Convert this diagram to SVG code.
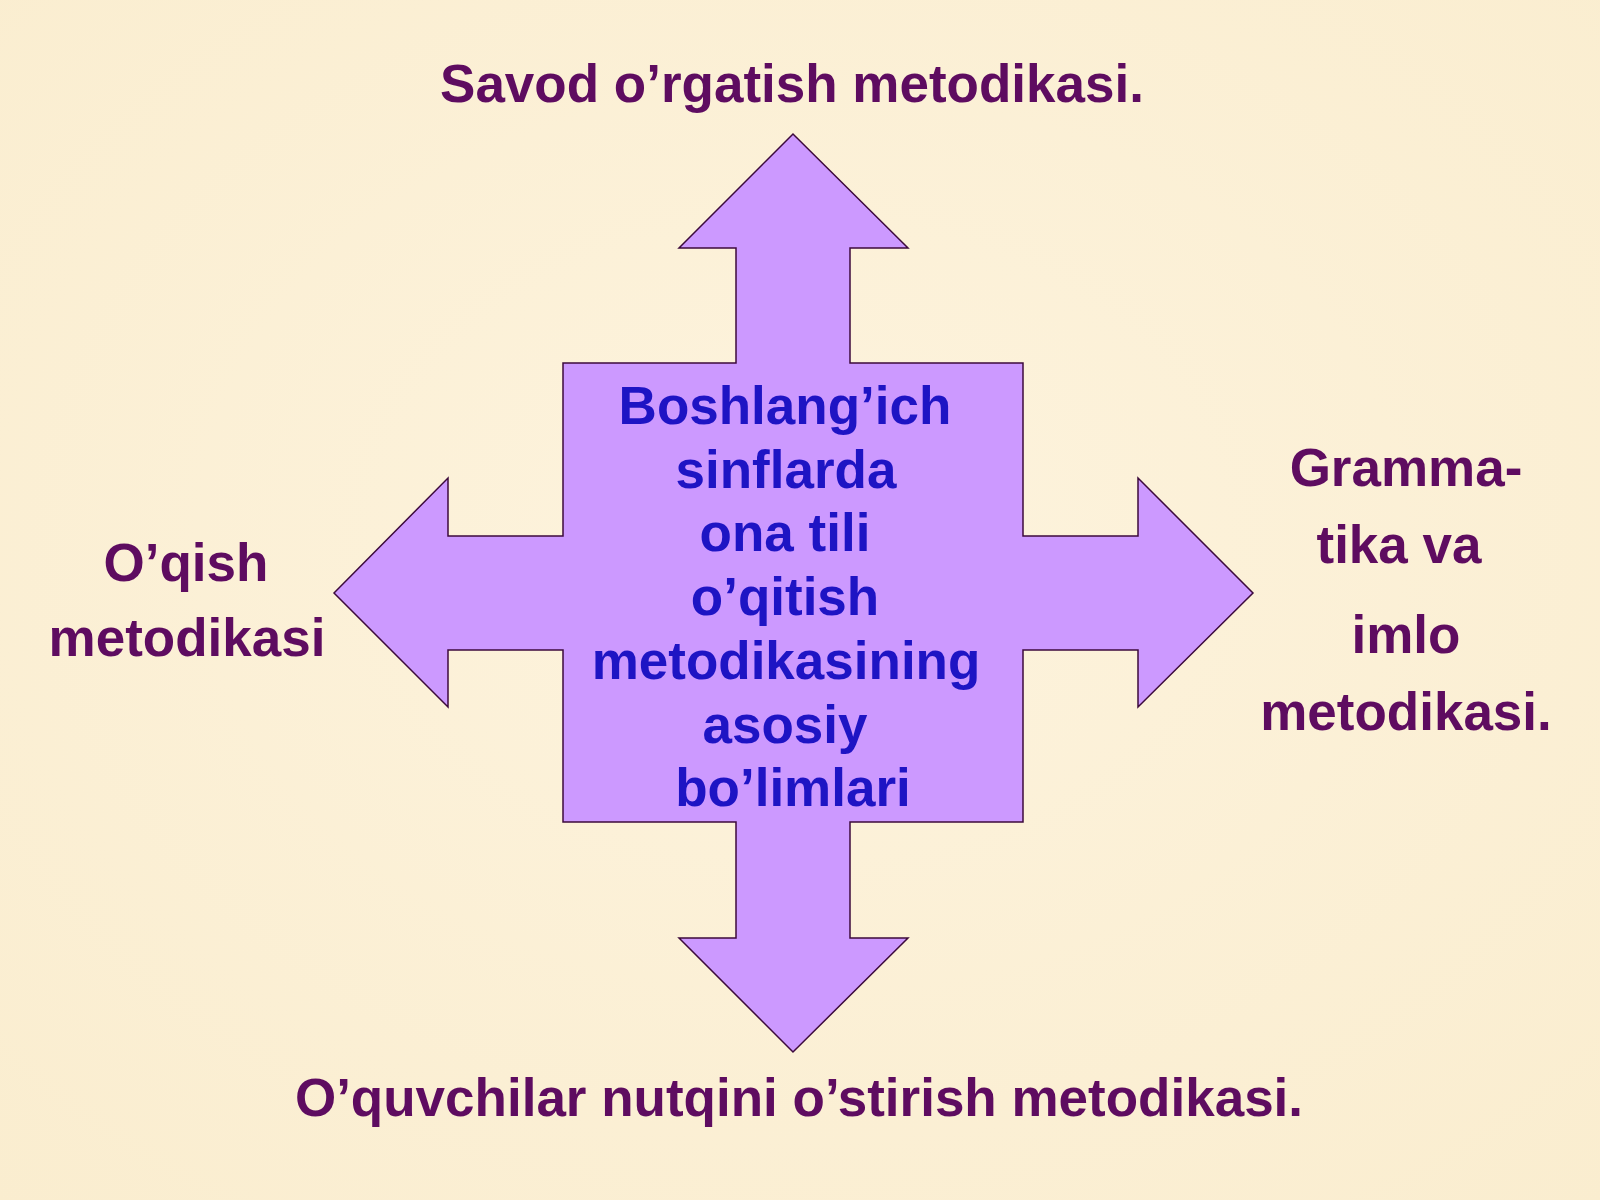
<svg xmlns="http://www.w3.org/2000/svg" width="1600" height="1200" viewBox="0 0 1600 1200">
  <defs>
    <radialGradient id="bg" cx="50%" cy="45%" r="75%">
      <stop offset="0" stop-color="#FDF3DD"/>
      <stop offset="1" stop-color="#FAEDCF"/>
    </radialGradient>
    <style>
      .lbl { font-family: "Liberation Sans", Arial, sans-serif; font-weight: bold; font-size: 53px; fill: #5E0C60; text-anchor: middle; }
      .ctr { font-family: "Liberation Sans", Arial, sans-serif; font-weight: bold; font-size: 53px; fill: #1E14C4; text-anchor: middle; }
      .cross { fill: #CC99FF; stroke: #3C0A3C; stroke-width: 1.5; stroke-linejoin: miter; }
    </style>
  </defs>
  <rect x="0" y="0" width="1600" height="1200" fill="url(#bg)"/>

  <g id="center">
    <path class="cross" d="M563,363 L736,363 L736,248 L679,248 L793,134 L908,248 L850,248 L850,363 L1023,363 L1023,536 L1138,536 L1138,478 L1253,593 L1138,707 L1138,650 L1023,650 L1023,822 L850,822 L850,938 L908,938 L793,1052 L679,938 L736,938 L736,822 L563,822 L563,650 L448,650 L448,707 L334,593 L448,478 L448,536 L563,536 Z"/>
    <text class="ctr" x="785" y="424">Boshlang’ich</text>
    <text class="ctr" x="786" y="488">sinflarda</text>
    <text class="ctr" x="785" y="551">ona tili</text>
    <text class="ctr" x="785" y="615">o’qitish</text>
    <text class="ctr" x="786" y="679">metodikasining</text>
    <text class="ctr" x="785" y="743">asosiy</text>
    <text class="ctr" x="793" y="806">bo’limlari</text>
  </g>

  <g id="connectors"></g>

  <g id="top">
    <text class="lbl" x="792" y="102">Savod o’rgatish metodikasi.</text>
  </g>
  <g id="bottom">
    <text class="lbl" x="799" y="1116">O’quvchilar nutqini o’stirish metodikasi.</text>
  </g>
  <g id="left">
    <text class="lbl" x="186" y="581">O’qish</text>
    <text class="lbl" x="187" y="656">metodikasi</text>
  </g>
  <g id="right">
    <text class="lbl" x="1406" y="486">Gramma-</text>
    <text class="lbl" x="1399" y="563">tika va</text>
    <text class="lbl" x="1406" y="653">imlo</text>
    <text class="lbl" x="1406" y="730">metodikasi.</text>
  </g>
</svg>
